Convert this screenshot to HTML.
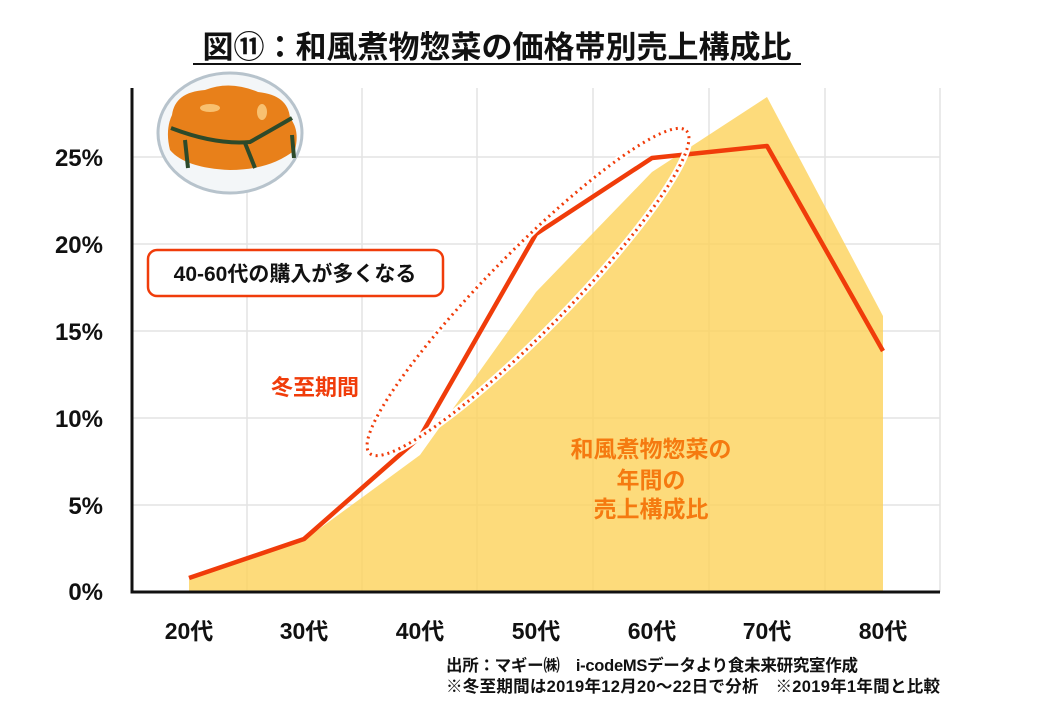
<!DOCTYPE html>
<html><head><meta charset="utf-8"><style>
body{margin:0;background:#fff;}
svg text{font-family:"Liberation Sans","Noto Sans CJK JP",sans-serif;font-weight:bold;}
</style></head><body>
<svg width="1040" height="720" viewBox="0 0 1040 720" xmlns="http://www.w3.org/2000/svg">
<text x="497" y="58" font-size="31" text-anchor="middle" fill="#111">図⑪：和風煮物惣菜の価格帯別売上構成比</text>
<line x1="193" y1="64" x2="801" y2="64" stroke="#111" stroke-width="2"/>
<g stroke="#e3e3e3" stroke-width="1.5">
<line x1="132" y1="157" x2="940" y2="157"/><line x1="132" y1="244" x2="940" y2="244"/>
<line x1="132" y1="331" x2="940" y2="331"/><line x1="132" y1="418" x2="940" y2="418"/>
<line x1="132" y1="505" x2="940" y2="505"/>
<line x1="247" y1="88" x2="247" y2="592"/><line x1="362" y1="88" x2="362" y2="592"/>
<line x1="477" y1="88" x2="477" y2="592"/><line x1="593" y1="88" x2="593" y2="592"/>
<line x1="709" y1="88" x2="709" y2="592"/><line x1="825" y1="88" x2="825" y2="592"/>
<line x1="940" y1="88" x2="940" y2="592"/>
</g>
<polygon points="189,592 189,580 304,540 420,455 536,292 652,172 767,97 883,316 883,592" fill="#fcd25a" opacity="0.8"/>
<path d="M132,88 V592 H940" fill="none" stroke="#111" stroke-width="3"/>
<polyline points="189,578 304,539 420,437 536,234 652,158 767,146 883,351" fill="none" stroke="#f03c0a" stroke-width="4.5" stroke-linejoin="round"/>
<ellipse cx="528" cy="292" rx="226" ry="40" transform="rotate(-45.5 528 292)" fill="none" stroke="#fff" stroke-width="7"/>
<ellipse cx="528" cy="292" rx="226" ry="40" transform="rotate(-45.5 528 292)" fill="none" stroke="#f03c0a" stroke-width="3" stroke-dasharray="2 4"/>
<g font-size="24" fill="#111" text-anchor="end">
<text x="103" y="166">25%</text><text x="103" y="253">20%</text><text x="103" y="340">15%</text>
<text x="103" y="427">10%</text><text x="103" y="514">5%</text><text x="103" y="600">0%</text>
</g>
<g font-size="23" fill="#111" text-anchor="middle">
<text x="189" y="639">20代</text><text x="304" y="639">30代</text><text x="420" y="639">40代</text>
<text x="536" y="639">50代</text><text x="652" y="639">60代</text><text x="767" y="639">70代</text><text x="883" y="639">80代</text>
</g>
<rect x="148" y="250" width="295" height="46" rx="9" fill="#fff" stroke="#f03c0a" stroke-width="2.5"/>
<text x="295" y="281" font-size="21" text-anchor="middle" fill="#111">40-60代の購入が多くなる</text>
<text x="315" y="395" font-size="22" text-anchor="middle" fill="#f03c0a">冬至期間</text>
<g font-size="23" fill="#f57a10" text-anchor="middle">
<text x="651" y="457">和風煮物惣菜の</text><text x="651" y="488">年間の</text><text x="651" y="517">売上構成比</text>
</g>
<g font-size="16.5" fill="#111">
<text x="446" y="671" textLength="412">出所：マギー㈱　i-codeMSデータより食未来研究室作成</text>
<text x="446" y="692" textLength="494">※冬至期間は2019年12月20～22日で分析　※2019年1年間と比較</text>
</g>
<g>
<ellipse cx="230" cy="133" rx="72" ry="60" fill="#f3f6f8" stroke="#b7c3cc" stroke-width="3"/>
<path d="M172,115 Q175,92 205,90 Q230,80 258,92 Q288,95 290,118 Q300,130 295,150 Q270,170 230,170 Q185,168 170,150 Q165,130 172,115Z" fill="#e8801a"/>
<path d="M171,128 Q215,145 250,142 Q280,125 292,118" fill="none" stroke="#2d4a2a" stroke-width="4"/>
<path d="M185,140 L188,168 M245,143 L255,168 M292,135 L294,158" stroke="#2d4a2a" stroke-width="4"/>
<ellipse cx="210" cy="108" rx="10" ry="4" fill="#f8c070"/><ellipse cx="262" cy="112" rx="5" ry="8" fill="#f8c070"/>
</g>
</svg>
</body></html>
